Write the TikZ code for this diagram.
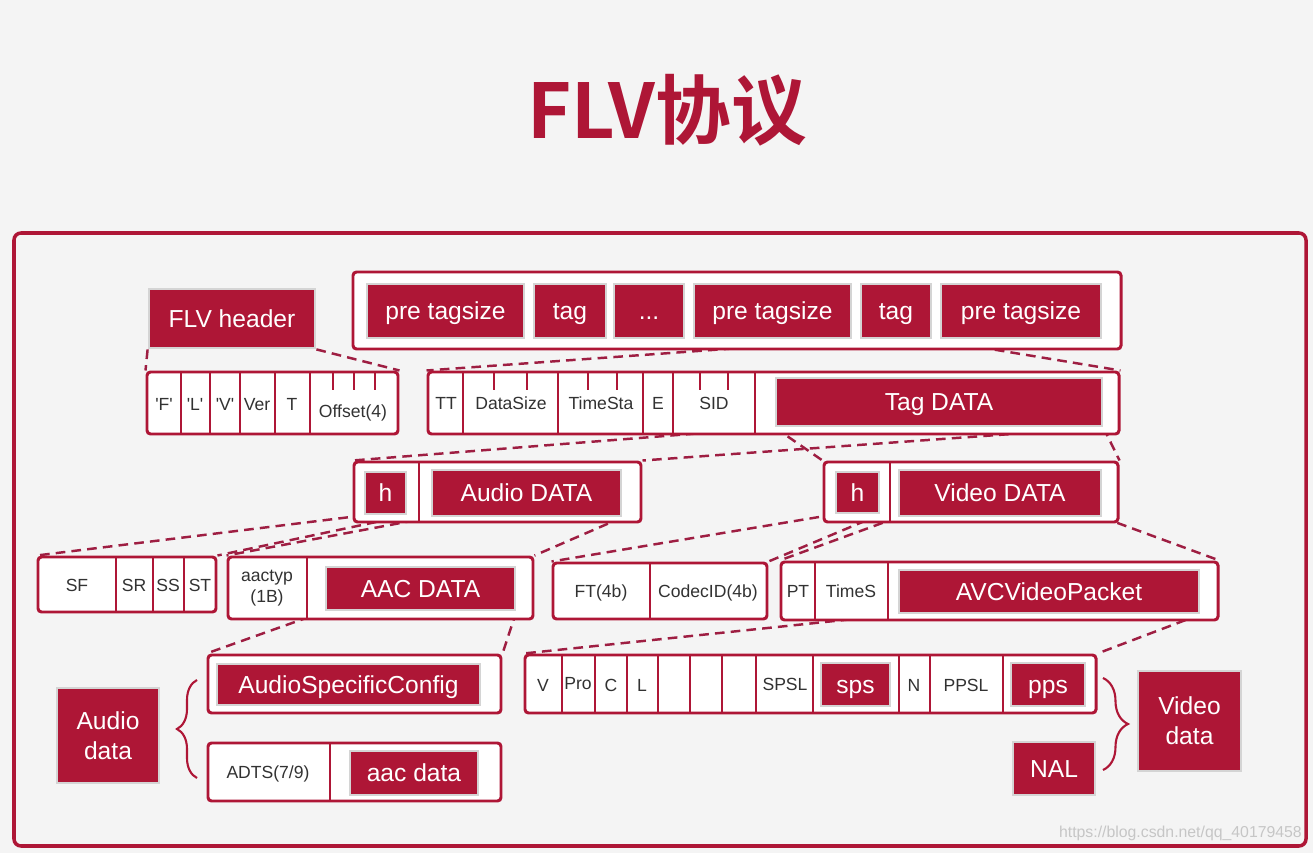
\documentclass[tikz,border=0pt]{standalone}
\usepackage{fontspec}
\setmainfont{Liberation Sans}[Ligatures=TeXOff]
\newfontfamily\titlefont{Noto Sans CJK SC}[BoldFont={Noto Sans CJK SC Bold}]
\usetikzlibrary{fit,decorations.pathreplacing}
\definecolor{flvred}{RGB}{174,22,54}
\definecolor{flvgray}{RGB}{212,212,212}
\definecolor{flvbg}{RGB}{244,244,244}
\definecolor{flvtext}{RGB}{50,50,50}
\definecolor{flvdash}{RGB}{158,30,66}
\pgfdeclarelayer{back}
\pgfdeclarelayer{lines}
\pgfsetlayers{back,lines,main}

\begin{document}
\begin{tikzpicture}[x=0.2mm,y=-0.2mm,
  wbox/.style={draw=flvred,fill=white,line width=1.7pt,rounded corners=2pt,inner sep=0pt},
  rbox/.style={draw=flvgray,fill=flvred,line width=1.6pt,inner sep=0pt,label={[rtext,text height=10pt,text depth=0pt]center:#1}},
  rboxtwo/.style={draw=flvgray,fill=flvred,line width=1.6pt,inner sep=0pt,label={[rtext]center:#1}},
  rtext/.style={text=white,align=center,inner sep=0pt,font=\fontsize{14}{17}\selectfont},
  cell/.style={text=flvtext,font=\fontsize{10}{12}\selectfont,align=center,text height=7.5pt,text depth=2pt},
  sep/.style={flvred,line width=1.1pt},
  zoomline/.style={flvdash,line width=1.4pt,dash pattern=on 5.5pt off 3.5pt},
  brc/.style={flvred,line width=1.2pt,decorate,decoration={brace,amplitude=#1}}]
  \begin{pgfonlayer}{back}
    \fill[flvbg] (0,0) rectangle (1313,853);
  \end{pgfonlayer}
  \useasboundingbox (0,0) rectangle (1313,853);
  \node[text=flvred,font=\titlefont\bfseries\fontsize{43}{46}\selectfont] (title) at (667,110) {FLV协议};
  \draw[flvred,line width=2pt,rounded corners=4pt] (14,233) rectangle (1306,846);

  % FLV header
  \node[rbox={FLV header},fit={(149,289) (315,348)}] (hdr) {};
  \node[wbox,fit={(147,372) (398,434)}] (hdrrow) {};
  \foreach \x in {181,210,240,275,310} \draw[sep] (\x,372) -- (\x,434);
  \foreach \x in {333,354,375} \draw[sep] (\x,372) -- (\x,390);
  \node[cell] (cF) at (164,406) {'F'};
  \node[cell] (cL) at (195,406) {'L'};
  \node[cell] (cV) at (225,406) {'V'};
  \node[cell] (cver) at (257,406) {Ver};
  \node[cell] (cT) at (292,406) {T};
  \node[cell] (coff) at (353,413) {Offset(4)};

  % tag sequence
  \node[wbox,fit={(353,272) (1121,349)}] (seq) {};
  \node[rbox={pre tagsize},fit={(367,284) (524,338)}] (pts1) {};
  \node[rbox=tag,fit={(534,284) (606,338)}] (tag1) {};
  \node[rbox=...,fit={(614,284) (684,338)}] (dots) {};
  \node[rbox={pre tagsize},fit={(694,284) (851,338)}] (pts2) {};
  \node[rbox=tag,fit={(861,284) (931,338)}] (tag2) {};
  \node[rbox={pre tagsize},fit={(941,284) (1101,338)}] (pts3) {};

  % tag fields
  \node[wbox,fit={(428,372) (1119,434)}] (tagrow) {};
  \foreach \x in {463,558,643,673,755} \draw[sep] (\x,372) -- (\x,434);
  \foreach \x in {494,527,588,617,700,728} \draw[sep] (\x,372) -- (\x,390);
  \node[cell] (cTT) at (446,405) {TT};
  \node[cell] (csize) at (511,405) {DataSize};
  \node[cell] (cts) at (601,405) {TimeSta};
  \node[cell] (cE) at (658,405) {E};
  \node[cell] (csid) at (714,405) {SID};
  \node[rbox={Tag DATA},fit={(776,378) (1102,426)}] (tagdata) {};

  % audio / video tag
  \node[wbox,fit={(354,462) (641,522)}] (abox) {};
  \draw[sep] (419,462) -- (419,522);
  \node[rbox=h,fit={(365,472) (406,514)}] (ah) {};
  \node[rbox={Audio DATA},fit={(432,470) (621,516)}] (adata) {};
  \node[wbox,fit={(824,462) (1118,522)}] (vbox) {};
  \draw[sep] (890,462) -- (890,522);
  \node[rbox=h,fit={(836,472) (879,513)}] (vh) {};
  \node[rbox={Video DATA},fit={(899,470) (1101,516)}] (vdata) {};

  % audio header, aac
  \node[wbox,fit={(38,557) (216,612)}] (sfrow) {};
  \foreach \x in {116,153,184} \draw[sep] (\x,557) -- (\x,612);
  \node[cell] (cSF) at (77,587) {SF};
  \node[cell] (cSR) at (134,587) {SR};
  \node[cell] (cSS) at (168,587) {SS};
  \node[cell] (cST) at (200,587) {ST};
  \node[wbox,fit={(228,557) (533,619)}] (aacrow) {};
  \draw[sep] (307,557) -- (307,619);
  \node[cell,text height=,text depth=] (caac) at (267,588) {aactyp\\(1B)};
  \node[rbox={AAC DATA},fit={(326,567) (515,610)}] (aacdata) {};

  % video header, avc
  \node[wbox,fit={(553,563) (767,619)}] (ftrow) {};
  \draw[sep] (650,563) -- (650,619);
  \node[cell] (cFT) at (601,593) {FT(4b)};
  \node[cell] (ccid) at (708,593) {CodecID(4b)};
  \node[wbox,fit={(781,562) (1218,620)}] (ptrow) {};
  \foreach \x in {815,888} \draw[sep] (\x,562) -- (\x,620);
  \node[cell] (cPT) at (798,593) {PT};
  \node[cell] (ctime) at (851,593) {TimeS};
  \node[rbox=AVCVideoPacket,fit={(899,570) (1199,613)}] (avc) {};

  % audio data
  \node[wbox,fit={(208,655) (501,713)}] (ascrow) {};
  \node[rbox=AudioSpecificConfig,fit={(217,664) (480,705)}] (asc) {};
  \node[wbox,fit={(208,743) (501,801)}] (adtsrow) {};
  \draw[sep] (330,743) -- (330,801);
  \node[cell] (cadts) at (268,774) {ADTS(7/9)};
  \node[rbox={aac data},fit={(350,751) (478,795)}] (aacd) {};
  \node[rboxtwo={Audio\\data},fit={(57,688) (159,783)}] (audiod) {};
  \draw[brc=4mm] (197,778) -- (197,680);

  % avc config
  \node[wbox,fit={(525,655) (1096,713)}] (nalrow) {};
  \foreach \x in {562,595,627,658,690,722,756,813,899,930,1003} \draw[sep] (\x,655) -- (\x,713);
  \node[cell] (cv) at (543,687) {V};
  \node[cell] (cpro) at (578,685) {Pro};
  \node[cell] (cc) at (611,687) {C};
  \node[cell] (cl) at (642,687) {L};
  \node[cell] (cspsl) at (785,686) {SPSL};
  \node[rbox=sps,fit={(821,663) (890,706)}] (sps) {};
  \node[cell] (cn) at (914,687) {N};
  \node[cell] (cppsl) at (966,687) {PPSL};
  \node[rbox=pps,fit={(1011,663) (1085,706)}] (pps) {};
  \node[rbox=NAL,fit={(1013,742) (1095,795)}] (nal) {};
  \node[rboxtwo={Video\\data},fit={(1138,671) (1241,771)}] (videod) {};
  \draw[brc=5mm] (1103,678) -- (1103,770);

  \node[text=gray!45,font=\fontsize{9}{10}\selectfont,anchor=east] (wm) at (1308,833) {https://blog.csdn.net/qq\_40179458};

  % dashed zoom lines
  \begin{pgfonlayer}{lines}
    \draw[zoomline] (hdr.south west) -- (hdrrow.north west) (hdr.south east) -- (hdrrow.north east);
    \draw[zoomline] (tag2.south west) -- (tagrow.north west) (tag2.south east) -- (tagrow.north east);
    \draw[zoomline] (tagdata.south west) -- (abox.north west) (tagdata.south east) -- (abox.north east);
    \draw[zoomline] (tagdata.south west) -- (vbox.north west) (tagdata.south east) -- (vbox.north east);
    \draw[zoomline] (ah.south west) -- (sfrow.north west) (ah.south east) -- (sfrow.north east);
    \draw[zoomline] (adata.south west) -- (aacrow.north west) (adata.south east) -- (aacrow.north east);
    \draw[zoomline] (vh.south west) -- (ftrow.north west) (vh.south east) -- (ftrow.north east);
    \draw[zoomline] (vdata.south west) -- (ptrow.north west) (vdata.south east) -- (ptrow.north east);
    \draw[zoomline] (aacdata.south west) -- (ascrow.north west) (aacdata.south east) -- (ascrow.north east);
    \draw[zoomline] (avc.south west) -- (nalrow.north west) (avc.south east) -- (nalrow.north east);
  \end{pgfonlayer}
\end{tikzpicture}
\end{document}
